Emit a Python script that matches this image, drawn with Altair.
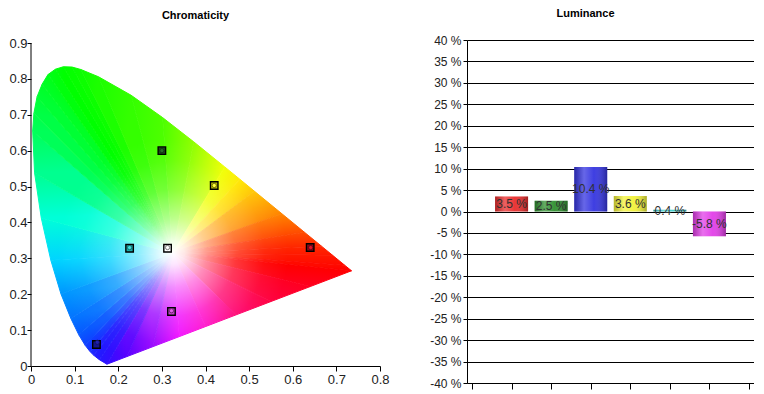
import altair as alt
import pandas as pd

# ---------------- Chromaticity data ----------------
# horseshoe outline (spectral locus)
locus_x = [0.1741, 0.1566, 0.1440, 0.1355, 0.1241, 0.1096, 0.0913, 0.0687, 0.0454, 0.0235,
           0.0082, 0.0039, 0.0066, 0.0139, 0.0254, 0.0389, 0.0560, 0.0743, 0.0940, 0.1142,
           0.1547, 0.2296, 0.3016, 0.3731, 0.4441, 0.4788, 0.5125, 0.5752, 0.6270, 0.6658,
           0.6915, 0.7190, 0.7347]
locus_y = [0.0050, 0.0177, 0.0297, 0.0399, 0.0578, 0.0868, 0.1327, 0.2007, 0.2950, 0.4127,
           0.5384, 0.6548, 0.7040, 0.7502, 0.7850, 0.8120, 0.8270, 0.8338, 0.8330, 0.8262,
           0.8059, 0.7543, 0.6923, 0.6245, 0.5547, 0.5202, 0.4866, 0.4242, 0.3725, 0.3340,
           0.3083, 0.2809, 0.2653]
# points along the bottom (purple) edge
purple_x = [0.64, 0.55, 0.47, 0.40, 0.34, 0.28, 0.22]
purple_y = [0.2213, 0.1796, 0.1425, 0.1099, 0.0820, 0.0542, 0.0263]

# colour at each outline point (style)
edge_colors = ['#3010ff', '#2418ff', '#2020ff', '#1a2cff', '#1040ff', '#0858ff', '#0474ff',
               '#0096ff', '#00d4ff', '#00ffd8', '#00ff90', '#00ff58', '#00ff46', '#00ff34',
               '#00ff26', '#00ff18', '#00ff0c', '#00ff00', '#06ff00', '#0cff00', '#1cff00',
               '#34ff00', '#4cff00', '#90ff00', '#f0ff00', '#ffe800', '#ffc400', '#ff8400',
               '#ff4c00', '#ff2800', '#ff1800', '#ff0a00', '#ff0000',
               '#ff0020', '#ff0040', '#ff0070', '#ff00c8', '#f000ff', '#9800ff', '#5800ff']
fan_center = (0.325, 0.315)

names = ["Red", "Green", "Blue", "Yellow", "Cyan", "Magenta", "White"]
target_x = [0.640, 0.300, 0.150, 0.420, 0.226, 0.322, 0.313]
target_y = [0.330, 0.600, 0.060, 0.503, 0.328, 0.152, 0.328]
meas_x = [0.641, 0.300, 0.152, 0.420, 0.226, 0.322, 0.313]
meas_y = [0.330, 0.600, 0.066, 0.503, 0.330, 0.154, 0.330]
square_fill = ['#8a0a18', '#1c4a1c', '#14148a', '#b8b800', '#1aa8a8', '#c040c8', '#ffffff']
circle_fill = ['#e01028', '#2a6a2a', '#2020b0', '#ffff40', '#40e0e0', '#e060e8', '#ffffff']
circle_stroke = ['#600010', '#103010', '#101060', '#606000', '#106060', '#602060', '#606060']

# ---------------- Luminance data ----------------
lum_names = ["Red", "Green", "Blue", "Yellow", "Cyan", "Magenta"]
lum_values = [3.5, 2.5, 10.4, 3.6, 0.4, -5.8]
bar_colors = ['#e82c2c', '#2f8f2f', '#3434e0', '#f2f23a', '#3cc8c8', '#e23ee8']

FONT = 'Liberation Sans'

# ---------------- left chart ----------------
W1, H1 = 349, 326
px_x = W1 / 0.8
px_y = 323 / 0.9
ymax1 = 0.9 + 3 / px_y

bx = locus_x + purple_x
by = locus_y + purple_y
n = len(bx)

xs = alt.Scale(domain=[0, 0.8], nice=False)
ys = alt.Scale(domain=[0, ymax1], nice=False)
xax = alt.Axis(values=[i / 10 for i in range(9)], format='.1~f', title=None, grid=False,
               domainColor='black', tickColor='black', tickSize=5, labelFontSize=13,
               labelFont=FONT, labelColor='#222', labelPadding=2, labelOverlap=False,
               labelFlush=False, minExtent=0)
yax = alt.Axis(values=[i / 10 for i in range(10)], format='.1~f', title=None, grid=False,
               domain=False, tickColor='black', tickSize=4, labelFontSize=13,
               labelFont=FONT, labelColor='#222', labelPadding=0, labelOverlap=False,
               labelFlush=False, minExtent=0)
X = lambda f: alt.X(f, scale=xs, axis=xax)
Y = lambda f: alt.Y(f, scale=ys, axis=yax)

# fan of triangles from the centre, each shaded along its outer edge
slice_layers = []
for i in range(n):
    j = (i + 1) % n
    tx = [fan_center[0], bx[i], bx[j]]
    ty = [fan_center[1], by[i], by[j]]
    minx, maxx, miny, maxy = min(tx), max(tx), min(ty), max(ty)
    wx = max(maxx - minx, 1e-6)
    wy = max(maxy - miny, 1e-6)
    g = alt.LinearGradient(
        gradient='linear',
        x1=(bx[i] - minx) / wx, y1=(maxy - by[i]) / wy,
        x2=(bx[j] - minx) / wx, y2=(maxy - by[j]) / wy,
        stops=[alt.GradientStop(color=edge_colors[i], offset=0),
               alt.GradientStop(color=edge_colors[j], offset=1)])
    df = pd.DataFrame({'x': tx, 'y': ty, 'k': [0, 1, 2]})
    slice_layers.append(
        alt.Chart(df).mark_line(fill=g, stroke=g, strokeWidth=1, strokeJoin='round').encode(
            x=X('x:Q'), y=Y('y:Q'), order=alt.Order('k:Q')))

# white glow around the centre (radial gradient in a square pattern of side max(w,h))
hs_df = pd.DataFrame({'x': bx, 'y': by, 'k': list(range(n))})
wpx = (max(bx) - min(bx)) * px_x
hpx = (max(by) - min(by)) * px_y
side = max(wpx, hpx)
cxn = ((fan_center[0] - min(bx)) * px_x + (side - wpx) / 2) / side
cyn = ((max(by) - fan_center[1]) * px_y + (side - hpx) / 2) / side
glow = alt.RadialGradient(
    gradient='radial', x1=cxn, y1=cyn, r1=0, x2=cxn, y2=cyn, r2=115 / side,
    stops=[alt.GradientStop(color='rgba(255,255,255,1)', offset=0),
           alt.GradientStop(color='rgba(255,255,255,0.9)', offset=0.1),
           alt.GradientStop(color='rgba(255,255,255,0.55)', offset=0.3),
           alt.GradientStop(color='rgba(255,255,255,0.22)', offset=0.55),
           alt.GradientStop(color='rgba(255,255,255,0.05)', offset=0.8),
           alt.GradientStop(color='rgba(255,255,255,0)', offset=1)])
overlay = alt.Chart(hs_df).mark_line(fill=glow, strokeOpacity=0).encode(
    x=X('x:Q'), y=Y('y:Q'), order=alt.Order('k:Q'))

yline = alt.Chart(pd.DataFrame({'a': [0]})).mark_rule(color='black').encode(
    x=alt.datum(0, scale=xs, axis=xax), y=alt.datum(0, scale=ys, axis=yax), y2=alt.datum(0.9))

pts_df = pd.DataFrame({'name': names, 'tx': target_x, 'ty': target_y, 'mx': meas_x, 'my': meas_y})
squares = alt.Chart(pts_df).mark_point(shape='square', filled=True, size=56, stroke='black',
                                       strokeWidth=1.4, opacity=1).encode(
    x=X('tx:Q'), y=Y('ty:Q'),
    fill=alt.Fill('name:N', scale=alt.Scale(domain=names, range=square_fill), legend=None))
circles = alt.Chart(pts_df).mark_point(shape='circle', filled=True, size=18, strokeWidth=0.8,
                                       opacity=1).encode(
    x=X('mx:Q'), y=Y('my:Q'),
    fill=alt.Fill('name:N', scale=alt.Scale(domain=names, range=circle_fill), legend=None),
    stroke=alt.Stroke('name:N', scale=alt.Scale(domain=names, range=circle_stroke), legend=None))

left = alt.layer(*slice_layers, overlay, yline, squares, circles).resolve_scale(
    fill='independent', stroke='independent').properties(
    width=W1, height=H1,
    title=alt.Title('Chromaticity', font=FONT, fontSize=11, fontWeight='bold', color='black',
                    anchor='middle', dx=-10, dy=-1, offset=15))

# ---------------- right chart ----------------
lum_df = pd.DataFrame({
    'name': lum_names,
    'pos': list(range(1, len(lum_values) + 1)),
    'value': lum_values,
    'mid': [v / 2 for v in lum_values],
    'label': [f"{v:.1f} %" for v in lum_values],
})
xs2 = alt.Scale(domain=[0, 7], nice=False)
ys2 = alt.Scale(domain=[-40, 40], nice=False)
xax2 = alt.Axis(values=list(range(8)), labels=False, title=None, grid=False,
                domainColor='black', tickColor='black', tickSize=6, minExtent=0)
yax2 = alt.Axis(values=list(range(-40, 41, 5)), labelExpr="datum.value + ' %'", title=None,
                grid=True, gridColor='black', gridOpacity=1, gridWidth=1,
                domainColor='black', tickColor='black', tickSize=4, labelFontSize=12,
                labelFont=FONT, labelColor='#222', labelPadding=2, labelOverlap=False,
                labelFlush=False, minExtent=0)

bars = alt.Chart(lum_df).mark_bar(size=33).encode(
    x=alt.X('pos:Q', scale=xs2, axis=xax2),
    y=alt.Y('value:Q', scale=ys2, axis=yax2),
    y2=alt.datum(0),
    fill=alt.Fill('name:N', scale=alt.Scale(domain=lum_names, range=bar_colors), legend=None))
shade = alt.LinearGradient(
    gradient='linear', x1=0, y1=0, x2=1, y2=0,
    stops=[alt.GradientStop(color='rgba(0,0,0,0.25)', offset=0),
           alt.GradientStop(color='rgba(255,255,255,0.25)', offset=0.3),
           alt.GradientStop(color='rgba(255,255,255,0.05)', offset=0.6),
           alt.GradientStop(color='rgba(0,0,0,0.3)', offset=1)])
bars_shade = alt.Chart(lum_df).mark_bar(size=33, fill=shade).encode(
    x=alt.X('pos:Q', scale=xs2, axis=xax2), y=alt.Y('value:Q', scale=ys2, axis=yax2),
    y2=alt.datum(0))
labels = alt.Chart(lum_df).mark_text(font=FONT, fontSize=12, color='#303030').encode(
    x=alt.X('pos:Q', scale=xs2, axis=xax2), y=alt.Y('mid:Q', scale=ys2, axis=yax2),
    text='label:N')

right = alt.layer(bars, bars_shade, labels).properties(
    width=287, height=343,
    title=alt.Title('Luminance', font=FONT, fontSize=11, fontWeight='bold', color='black',
                    anchor='middle', dx=-25, offset=15))

chart = alt.hconcat(left, right, spacing=39).properties(
    padding={"left": 0, "top": 0, "right": 0, "bottom": 0}).configure_view(stroke=None)
chart.save("out.html", embed_options={"renderer": "svg", "actions": False})
